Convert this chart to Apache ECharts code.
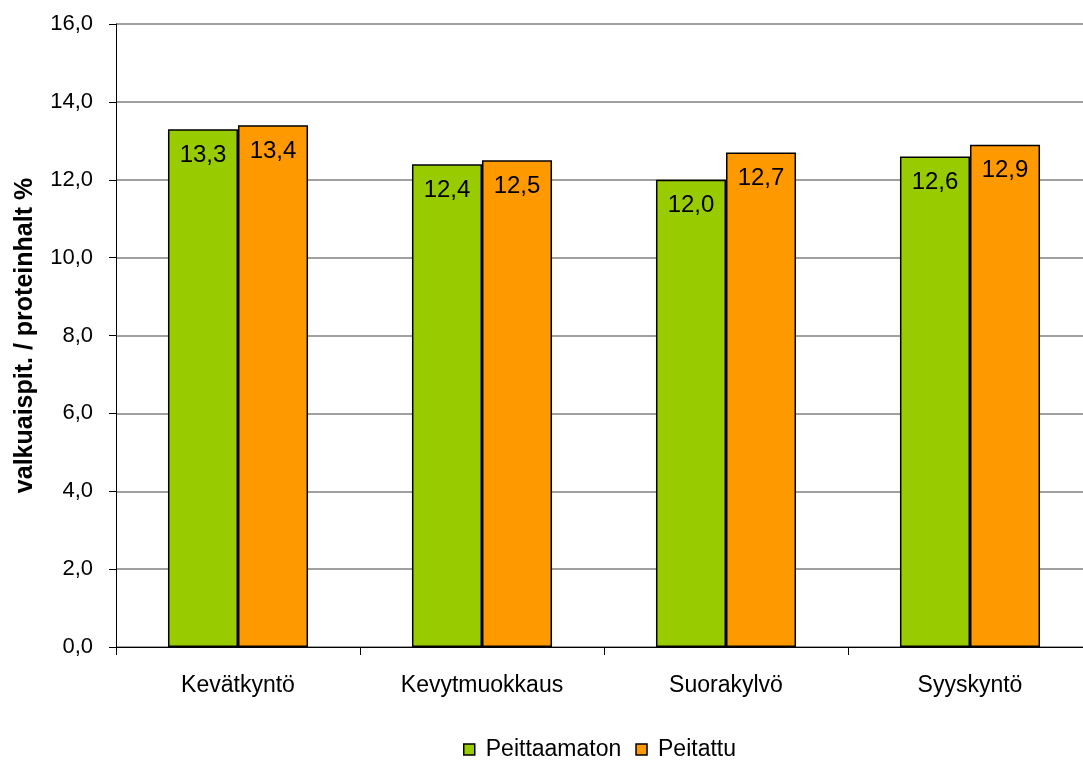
<!DOCTYPE html>
<html>
<head>
<meta charset="utf-8">
<script src="https://cdn.jsdelivr.net/npm/echarts@6/dist/echarts.min.js"></script>
<style>
  html, body { margin: 0; padding: 0; background: #fff; overflow: hidden; }
  #chart { width: 1100px; height: 762px; }
</style>
</head>
<body>
<div id="chart"></div>
<script>
var categories = ['Kevätkyntö', 'Kevytmuokkaus', 'Suorakylvö', 'Syyskyntö'];
var seriesNames = ['Peittaamaton', 'Peitattu'];
var peittaamaton = [13.3, 12.4, 12.0, 12.6];
var peitattu = [13.4, 12.5, 12.7, 12.9];
var yName = 'valkuaispit. / proteinhalt %';

function fmt(v) {
    return Number(v).toFixed(1).replace('.', ',');
}

// chart is a bit wider than the window, the right edge is cut like in the original
var chart = echarts.init(document.getElementById('chart'));
var font = 'Liberation Sans, Arial, sans-serif';

var labelOpt = {
    show: true,
    position: 'insideTop',
    distance: 14,
    color: '#000',
    fontSize: 24,
    fontFamily: font,
    formatter: function (p) { return fmt(p.value); }
};

var option = {
    animation: false,
    grid: {
        left: 116,
        width: 976,
        top: 24,
        bottom: 115,
        containLabel: false
    },
    legend: {
        bottom: -4,
        left: 458,
        icon: 'rect',
        itemWidth: 11,
        itemHeight: 11,
        itemGap: 14,
        itemStyle: { borderColor: '#000', borderWidth: 1.5 },
        textStyle: { fontSize: 23, fontFamily: font, color: '#000', padding: [0, 0, 0, 6] },
        data: seriesNames
    },
    xAxis: {
        type: 'category',
        data: categories,
        axisLine: { lineStyle: { color: '#000', width: 1 } },
        axisTick: { show: true, length: 8, lineStyle: { color: '#000' } },
        axisLabel: { fontSize: 23, fontFamily: font, color: '#000', margin: 27 }
    },
    yAxis: {
        type: 'value',
        min: 0,
        max: 16,
        interval: 2,
        name: yName,
        nameLocation: 'middle',
        nameGap: 78,
        nameTextStyle: { fontSize: 25, fontWeight: 'bold', fontFamily: font, color: '#000' },
        axisLine: { show: true, lineStyle: { color: '#000', width: 1 } },
        axisTick: { show: true, length: 7, lineStyle: { color: '#000' } },
        splitLine: { lineStyle: { color: '#808080', width: 1.5 } },
        axisLabel: {
            fontSize: 22, fontFamily: font, color: '#000', margin: 23,
            formatter: function (v) { return fmt(v); }
        }
    },
    series: [{
        name: seriesNames[0],
        type: 'bar',
        data: peittaamaton,
        barGap: '0%',
        barCategoryGap: '42.6%',
        itemStyle: { color: '#99CC00', borderColor: '#000', borderWidth: 1.5 },
        label: labelOpt
    }, {
        name: seriesNames[1],
        type: 'bar',
        data: peitattu,
        barGap: '0%',
        barCategoryGap: '42.6%',
        itemStyle: { color: '#FF9900', borderColor: '#000', borderWidth: 1.5 },
        label: labelOpt
    }]
};
chart.setOption(option);
</script>
</body>
</html>
